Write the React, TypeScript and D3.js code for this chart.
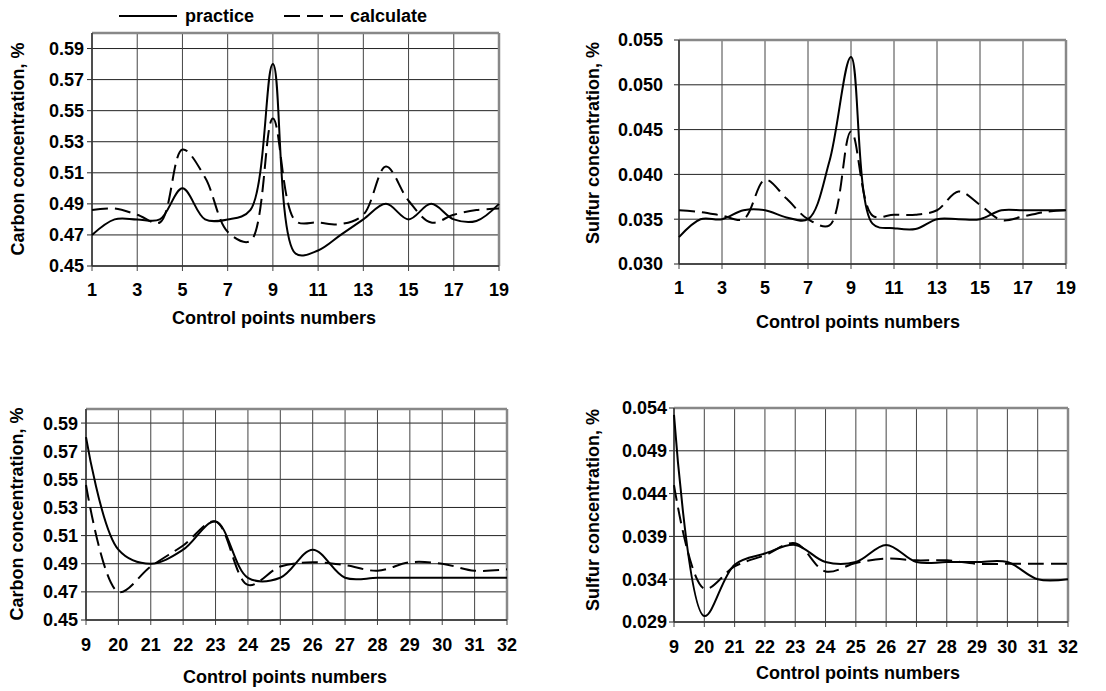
import React from "react";
import * as d3 from "d3";

// ---------- data ----------
const xTop = [1, 2, 3, 4, 5, 6, 7, 8, 9, 10, 11, 12, 13, 14, 15, 16, 17, 18, 19];
const xTopTicks = [1, 3, 5, 7, 9, 11, 13, 15, 17, 19];
const xBottom = ["9", "20", "21", "22", "23", "24", "25", "26", "27", "28", "29", "30", "31", "32"];

const carbonPracticeTop = [0.47, 0.48, 0.48, 0.48, 0.5, 0.48, 0.48, 0.486, 0.58, 0.458, 0.46, 0.47, 0.48, 0.49, 0.48, 0.49, 0.48, 0.479, 0.49];
const carbonCalcTop = [0.486, 0.487, 0.483, 0.478, 0.525, 0.507, 0.472, 0.466, 0.545, 0.479, 0.478, 0.477, 0.483, 0.514, 0.492, 0.478, 0.483, 0.486, 0.487];

const sulfurPracticeTop = [0.033, 0.035, 0.035, 0.036, 0.036, 0.0352, 0.035, 0.0415, 0.0531, 0.0345, 0.034, 0.0339, 0.035, 0.035, 0.035, 0.036, 0.036, 0.036, 0.036];
const sulfurCalcTop = [0.036, 0.0358, 0.0354, 0.035, 0.0394, 0.0373, 0.035, 0.0343, 0.0448, 0.0354, 0.0355, 0.0355, 0.036, 0.0381, 0.0366, 0.0349, 0.0353, 0.0358, 0.036];

const carbonPracticeBottom = [0.58, 0.5, 0.49, 0.5, 0.52, 0.48, 0.48, 0.5, 0.48, 0.48, 0.48, 0.48, 0.48, 0.48];
const carbonCalcBottom = [0.546, 0.47, 0.488, 0.503, 0.52, 0.475, 0.488, 0.491, 0.489, 0.485, 0.491, 0.49, 0.485, 0.486];

const sulfurPracticeBottom = [0.0532, 0.0297, 0.0357, 0.037, 0.038, 0.036, 0.036, 0.038, 0.036, 0.036, 0.036, 0.036, 0.034, 0.034];
const sulfurCalcBottom = [0.045, 0.0329, 0.0355, 0.0368, 0.0382, 0.0349, 0.0359, 0.0364, 0.0362, 0.0362, 0.0358, 0.0358, 0.0358, 0.0358];

const carbonTicks = [0.45, 0.47, 0.49, 0.51, 0.53, 0.55, 0.57, 0.59];
const sulfurTopTicks = [0.03, 0.035, 0.04, 0.045, 0.05, 0.055];
const sulfurBottomTicks = [0.029, 0.034, 0.039, 0.044, 0.049, 0.054];

const seriesNames = ["practice", "calculate"];
const yTitleCarbon = "Carbon concentration, %";
const yTitleSulfur = "Sulfur concentration, %";
const xTitle = "Control points numbers";

const FONT = "'Liberation Sans', Arial, sans-serif";
const FS = 18;
const DASH = "16,7";

type PanelProps = {
  left: number; right: number; top: number; bottom: number;
  xKind: "linear" | "point";
  xLinearDomain?: [number, number];
  xLinearValues?: number[];
  xLinearTicks?: number[];
  xCats?: string[];
  yDomain: [number, number];
  yTicks: number[];
  yFormat: string;
  practice: number[];
  calc: number[];
  yTitle: string;
  yTitleX: number; yTitleY: number;
  xTitleX: number; xTitleY: number;
  yLabelGap: number;
  xLabelY: number;
};

function Panel(p: PanelProps) {
  const y = d3.scaleLinear().domain(p.yDomain).range([p.bottom, p.top]);
  let xs: number[] = [];
  let tickXs: { x: number; label: string }[] = [];
  if (p.xKind === "linear") {
    const x = d3.scaleLinear().domain(p.xLinearDomain!).range([p.left, p.right]);
    xs = p.xLinearValues!.map((v) => x(v));
    tickXs = p.xLinearTicks!.map((t) => ({ x: x(t), label: String(t) }));
  } else {
    const x = d3.scalePoint<string>().domain(p.xCats!).range([p.left, p.right]);
    xs = p.xCats!.map((c) => x(c)!);
    tickXs = p.xCats!.map((c) => ({ x: x(c)!, label: c }));
  }
  const line = d3.line<number>()
    .x((_, i) => xs[i])
    .y((d) => y(d))
    .curve(d3.curveCatmullRom.alpha(0.5));
  const fmt = d3.format(p.yFormat);
  return (
    <g>
      {p.yTicks.map((t) => (
        <line key={"h" + t} x1={p.left - 5} x2={p.right} y1={y(t)} y2={y(t)} stroke="#222" strokeWidth={1} />
      ))}
      {tickXs.map((t) => (
        <line key={"v" + t.label} x1={t.x} x2={t.x} y1={p.top} y2={p.bottom + 5} stroke="#444" strokeWidth={1} />
      ))}
      <line x1={p.left} x2={p.right} y1={p.top} y2={p.top} stroke="#888" strokeWidth={2.5} />
      <line x1={p.right} x2={p.right} y1={p.top} y2={p.bottom} stroke="#888" strokeWidth={2.5} />
      <line x1={p.left} x2={p.left} y1={p.top} y2={p.bottom} stroke="#333" strokeWidth={1.5} />
      <line x1={p.left} x2={p.right} y1={p.bottom} y2={p.bottom} stroke="#333" strokeWidth={1.5} />
      <path d={line(p.calc) || ""} fill="none" stroke="#000" strokeWidth={2} strokeDasharray={DASH} />
      <path d={line(p.practice) || ""} fill="none" stroke="#000" strokeWidth={2} />
      {p.yTicks.map((t) => (
        <text key={"yl" + t} x={p.left - p.yLabelGap} y={y(t)} dy="0.36em" textAnchor="end"
          fontFamily={FONT} fontWeight="bold" fontSize={FS} fill="#000">{fmt(t)}</text>
      ))}
      {tickXs.map((t) => (
        <text key={"xl" + t.label} x={t.x} y={p.xLabelY} dy="0.36em" textAnchor="middle"
          fontFamily={FONT} fontWeight="bold" fontSize={FS} fill="#000">{t.label}</text>
      ))}
      <text transform={`translate(${p.yTitleX},${p.yTitleY}) rotate(-90)`} textAnchor="middle" dy="0.36em"
        fontFamily={FONT} fontWeight="bold" fontSize={FS} fill="#000">{p.yTitle}</text>
      <text x={p.xTitleX} y={p.xTitleY} textAnchor="middle" dy="0.36em"
        fontFamily={FONT} fontWeight="bold" fontSize={FS} fill="#000">{xTitle}</text>
    </g>
  );
}

export default function App() {
  return (
    <svg width={1106} height={691} style={{ position: "absolute", left: 0, top: 0, background: "#fff" }}>
      <rect width={1106} height={691} fill="#fff" />
      <g>
        <line x1={119} x2={177} y1={16} y2={16} stroke="#000" strokeWidth={2} />
        <text x={185} y={16} dy="0.36em" fontFamily={FONT} fontWeight="bold" fontSize={FS}>{seriesNames[0]}</text>
        <line x1={284} x2={343} y1={16} y2={16} stroke="#000" strokeWidth={2} strokeDasharray={DASH} />
        <text x={350} y={16} dy="0.36em" fontFamily={FONT} fontWeight="bold" fontSize={FS}>{seriesNames[1]}</text>
      </g>
      <Panel left={92} right={499} top={33} bottom={266} xKind="linear" xLinearDomain={[1, 19]}
        xLinearValues={xTop} xLinearTicks={xTopTicks} yDomain={[0.45, 0.6]} yTicks={carbonTicks} yFormat=".2f"
        practice={carbonPracticeTop} calc={carbonCalcTop} yTitle={yTitleCarbon}
        yTitleX={18} yTitleY={149} xTitleX={274} xTitleY={318} yLabelGap={8} xLabelY={290} />
      <Panel left={679} right={1066} top={40} bottom={264} xKind="linear" xLinearDomain={[1, 19]}
        xLinearValues={xTop} xLinearTicks={xTopTicks} yDomain={[0.03, 0.055]} yTicks={sulfurTopTicks} yFormat=".3f"
        practice={sulfurPracticeTop} calc={sulfurCalcTop} yTitle={yTitleSulfur}
        yTitleX={593} yTitleY={143} xTitleX={858} xTitleY={322} yLabelGap={16} xLabelY={288} />
      <Panel left={86} right={507} top={409} bottom={620} xKind="point" xCats={xBottom}
        yDomain={[0.45, 0.6]} yTicks={carbonTicks} yFormat=".2f"
        practice={carbonPracticeBottom} calc={carbonCalcBottom} yTitle={yTitleCarbon}
        yTitleX={17} yTitleY={514} xTitleX={285} xTitleY={677} yLabelGap={8} xLabelY={645} />
      <Panel left={674} right={1068} top={408} bottom={622} xKind="point" xCats={xBottom}
        yDomain={[0.029, 0.054]} yTicks={sulfurBottomTicks} yFormat=".3f"
        practice={sulfurPracticeBottom} calc={sulfurCalcBottom} yTitle={yTitleSulfur}
        yTitleX={593} yTitleY={510} xTitleX={858} xTitleY={673} yLabelGap={7} xLabelY={647} />
    </svg>
  );
}
